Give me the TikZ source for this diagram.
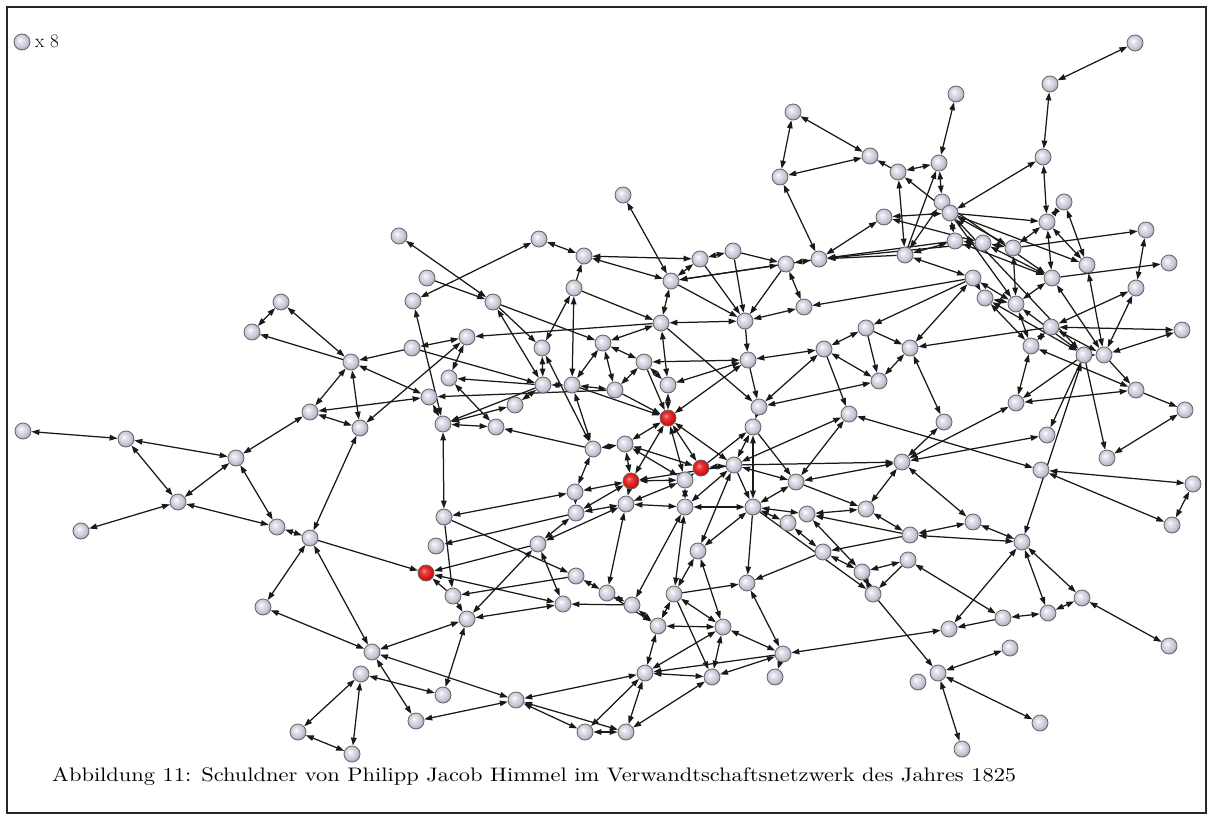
\documentclass[tikz,border=0pt]{standalone}
\usepackage{graphicx}
\usetikzlibrary{arrows.meta,backgrounds}
\definecolor{lav}{RGB}{198,198,216}
\definecolor{redn}{RGB}{225,20,20}
\pgfdeclareradialshading{lball}{\pgfqpoint{-7bp}{7bp}}{color(0bp)=(white); color(7bp)=(lav!45!white); color(20bp)=(lav); color(30bp)=(lav!78!black); color(50bp)=(lav!60!black)}
\pgfdeclareradialshading{rball}{\pgfqpoint{-7bp}{7bp}}{color(0bp)=(redn!40!white); color(7bp)=(redn!80!white); color(20bp)=(redn); color(30bp)=(redn!70!black); color(50bp)=(redn!50!black)}
\tikzset{
  nd/.style={circle, draw=black!60, line width=0.8pt, minimum size=16pt, inner sep=0pt, shading=lball},
  rd/.style={nd, shading=rball},
  ed/.style={line width=1.25pt, draw=black!90, {Triangle[length=8pt,width=5.5pt]}-{Triangle[length=8pt,width=5.5pt]}},
  ar/.style={line width=1.25pt, draw=black!90, -{Triangle[length=8pt,width=5.5pt]}}
}
\begin{document}
\begin{tikzpicture}[x=1pt,y=-1pt]
\useasboundingbox (0,0) rectangle (1210,821);
\begin{scope}[on background layer]
\fill[white] (0,0) rectangle (1210,821);
\end{scope}
\draw[line width=2.8pt, black!85] (7,7) rectangle (1206,813);
% legend
\node[nd] (leg) at (22,42) {};
\node[anchor=west, inner sep=0pt] (legt) at (35,41) {\fontsize{19}{22}\selectfont x 8};
% caption
\node[anchor=south west, inner sep=0pt] (cap) at (52,786) {\resizebox{964pt}{14pt}{Abbildung 11: Schuldner von Philipp Jacob Himmel im Verwandtschaftsnetzwerk des Jahres 1825}};
% nodes: left / lower-left
\foreach \n/\x/\y in {a1/23/431, a2/126/439, a3/236/458, a4/178/502, a5/81/531, a6/277/527, a7/310/412, a8/281/302, a9/252/332, a10/351/362, a11/360/428, a12/310/538, a13/263/607, a14/372/652, a15/361/674, a16/298/732, a17/352/754, a18/416/721, a19/443/695, a20/516/700, a21/585/732, a22/626/732, a23/467/619, a24/453/596, a26/436/546, a27/444/517, a28/538/544, a29/576/576, a30/563/604, a31/607/593, a32/632/605, a33/658/626, a34/674/594, a35/645/673, a36/712/677, a37/723/627, a38/698/551, a39/747/583, a40/783/654, a41/775/677}
  \node[nd] (\n) at (\x,\y) {};
\node[rd] (a25) at (426,573) {};
% upper-left middle
\foreach \n/\x/\y in {b1/399/236, b2/427/278, b3/413/301, b4/493/302, b5/539/239, b6/584/256, b7/574/288, b8/467/337, b9/412/348, b10/542/348, b11/603/343, b12/449/378, b13/543/385, b14/572/385, b15/429/397, b16/515/405, b17/443/424, b18/496/427, b19/593/449, b20/575/492, b21/576/513, b22/623/195}
  \node[nd] (\n) at (\x,\y) {};
% center
\foreach \n/\x/\y in {c1/671/281, c2/700/259, c3/733/251, c4/786/264, c5/819/259, c6/661/323, c7/745/321, c8/804/307, c9/866/328, c10/644/362, c11/748/360, c12/824/349, c13/615/390, c14/668/385, c16/759/407, c17/753/427, c18/849/414, c19/879/381, c20/625/444, c21/734/465, c24/685/480, c25/796/482, c26/626/504, c27/685/507, c28/753/507, c29/807/514, c30/788/523, c31/866/509, c32/823/552, c33/862/572, c34/873/594}
  \node[nd] (\n) at (\x,\y) {};
\node[rd] (c15) at (668,418) {};
\node[rd] (c22) at (701,468) {};
\node[rd] (c23) at (631,481) {};
% right
\foreach \n/\x/\y in {d1/793/112, d2/870/156, d3/898/172, d4/780/177, d5/884/217, d6/939/163, d7/956/94, d8/1050/84, d9/1135/43, d10/1043/157, d11/942/202, d12/950/213, d13/1064/202, d14/1047/222, d15/1146/230, d16/1169/263, d17/955/241, d18/983/243, d19/1013/248, d20/905/255, d21/973/278, d22/1052/278, d23/1087/265, d24/1136/288, d25/985/298, d26/1016/304, d27/1051/327, d28/1182/330, d29/910/348, d30/1031/346, d31/1084/355, d32/1104/355, d33/1136/390, d34/1016/403, d35/1185/410, d36/944/422, d37/1047/435, d38/1107/458, d39/902/462, d40/1041/470, d41/1193/484, d42/1172/525, d43/973/522, d44/910/535, d45/1022/542, d46/908/560, d47/1082/598, d48/1048/613, d49/1003/618, d50/949/629, d51/1169/646, d52/1010/648, d53/938/673, d54/918/682, d55/1040/723, d56/962/749}
  \node[nd] (\n) at (\x,\y) {};
\begin{scope}[on background layer]
\foreach \u/\v in {a1/a2, a2/a3, a2/a4, a4/a3, a4/a5, a4/a6, a3/a6, a3/a7, a9/a8, a10/a8, a10/a7, a10/a11, a10/b15, a7/a11, a7/b15, a11/b8, a11/a12, a12/a6, a12/a13, a12/a14, a13/a14, a14/a23, a14/a20, a14/a18, a15/a19, a15/a16, a15/a17, a16/a17, a18/a20, a20/a35, a20/a21, a20/a22, a21/a22, a21/a35, a23/a19, a23/a28, a23/a30, a25/a30, a28/a30, a35/a22, a22/a36, a35/a36, a37/a33, a37/a36, a37/a35, a33/a35, a33/a34, a34/a37, a34/a38, a38/a37, a39/a40, a40/a37, a36/a40, a29/a31, a31/a32, a32/a33, a28/c26, a28/b21, a40/d50,
 b1/b4, b3/b5, b5/b6, b6/c1, b6/c2, b22/c1, b9/b8, b12/b8, b12/b18, b3/b17, b15/b17, b17/b16, b17/b18, b17/a27, b16/b13, b13/b14, b13/b10, b4/b13, b10/b7, b10/b19, b14/b11, b14/b19, b7/b14, b19/b20, b20/b21, b20/a27, b19/c20, b20/c23, b21/c26, b21/c23, c13/b14, c13/c10, b11/c13,
 c1/c2, c2/c3, c1/c4, c4/c5, c5/d4, d4/d1, d1/d2, d4/d2, d3/d20, c5/d5, c1/c6, c6/c7, c7/c8, c4/c8, b11/c10, b11/c6, c10/c11, c9/c12, c12/c11, c12/c19, c12/c16, c11/c15, c16/c19, c16/c17, c17/c21, c17/c28, c18/c25, c18/c21, c18/d40, c21/c22, c21/c25, c21/c27, c15/c14, c15/c20, c15/c23, c15/c24, c15/c22, c15/c21, c14/c10, c14/c11, c6/c14, c20/c23, c20/c24, c20/c22, c23/c24, c23/c26, c24/c22, c24/c27, c24/c26, c26/c27, c27/c28, c28/c25, c28/c30, c28/c29, c31/c29, d39/c31, d39/c25, c29/c33, c30/c32, c32/c33, c33/c34, c31/d44, d46/c33, c26/a31, c27/a32, a34/c27, c21/a38, c28/a38, c19/d29,
 d9/d8, d8/d10, d10/d14, d12/d10, d7/d6, d6/d11, d3/d6, d13/d23, d14/d19, d15/d24, d17/d18, d18/d19, d20/d17, d12/d17, d12/d19, d20/d21, d21/d25, d21/d26, d21/d29, d22/d26, d22/d14, d22/d32, d23/d32, d25/d26, d25/d31, d26/d31, d26/d30, d26/d19, d27/d30, d27/d28, d27/d24, d27/d32, d30/d34, d30/d33, d25/d30, d31/d32, d31/d45, d32/d24, d32/d28, d33/d34, d38/d35, d34/d39, d36/d39, d29/d36, d37/d39, d39/d43, d43/d44, d43/d45, d40/d41, d40/d42, d41/d42, d45/d47, d45/d48, d45/d50, d44/d45, d46/d49, d48/d49, d47/d48, d47/d51, d52/d53, d53/d55, d53/d56, d13/d14, d11/d20, d3/d12, d12/d31, d11/d26, d17/d22, d18/d22, d14/d23, d5/d12, d5/d18}
  \draw[ed] (\u) -- (\v);
\foreach \u/\v in {a10/a9, a12/a25, a28/a25, a24/a25, a27/a24, a29/a24, a27/a29, a32/a30, b21/a26, a24/a23, a34/a39, c28/a39, c32/a39, a40/a41, a40/a35, a34/a36, a31/a33,
 b7/b6, b2/b4, b9/a10, c6/b8, b13/b12, b19/b18, b13/b17, b4/b10, b4/b11, b9/b13, c13/b15, c13/c15, c10/c15, b14/c15, b7/c6, c5/c1,
 c3/c4, d3/d2, c3/c7, c1/c7, c4/c7, c2/c7, c7/c11, c11/c16, c6/c16, c22/c17, c17/c25, c21/d39, c21/c28, c12/c18, c9/c19, c9/d29, c21/c23, c25/c31, d44/c29, d44/c32, d46/c34, c28/c34, c34/d53, d49/d50,
 d20/d6, d12/d14, d19/d15, d22/d16, d20/c5, d17/c5, d18/c5, d27/d29, d31/d34, d31/d38, d31/d37, d32/d33, d33/d35, d21/c9, d21/c8, d12/d23, d11/d22}
  \draw[ar] (\u) -- (\v);
\end{scope}
\end{tikzpicture}
\end{document}
